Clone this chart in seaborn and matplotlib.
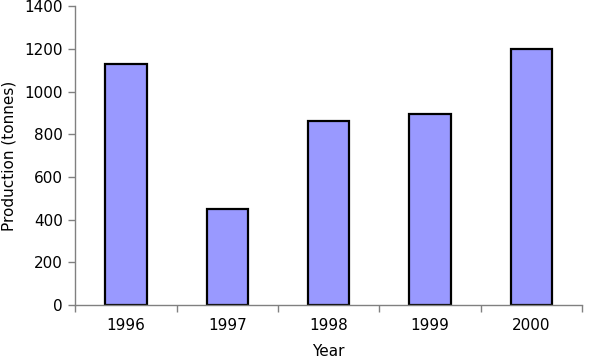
import matplotlib
matplotlib.use("Agg")
import matplotlib.pyplot as plt
import seaborn as sns
import pandas as pd
from matplotlib.ticker import FixedLocator

years = ["1996", "1997", "1998", "1999", "2000"]
production = [1130, 450, 860, 895, 1200]
y_ticks = [0, 200, 400, 600, 800, 1000, 1200, 1400]

df = pd.DataFrame({"Year": years, "Production": production})

sns.set_theme(style="white")
plt.rcParams["font.family"] = ["DejaVu Sans"]
plt.rcParams["text.color"] = "black"
plt.rcParams["axes.labelcolor"] = "black"

fig = plt.figure(figsize=(5.99, 3.62), dpi=100)
ax = fig.add_axes([0.126, 0.157, 0.8456, 0.826])

sns.barplot(data=df, x="Year", y="Production", color="#9999FF",
            saturation=1, width=0.41, edgecolor="black", linewidth=1.6, ax=ax)

ax.set_xlim(-0.5, len(years) - 0.5)
ax.set_ylim(0, 1400)
ax.set_yticks(y_ticks)
ax.set_yticklabels([str(t) for t in y_ticks])
ax.xaxis.set_minor_locator(FixedLocator([i - 0.5 for i in range(len(years) + 1)]))
ax.tick_params(axis="x", which="major", length=0, pad=9, labelsize=11, labelcolor="black")
ax.tick_params(axis="x", which="minor", length=5, width=1, color="#808080", direction="out", bottom=True)
ax.tick_params(axis="y", which="major", length=5, width=1, color="#808080", direction="out",
               left=True, labelsize=11, pad=4, labelcolor="black")

for s in ["top", "right"]:
    ax.spines[s].set_visible(False)
for s in ["left", "bottom"]:
    ax.spines[s].set_color("#808080")
    ax.spines[s].set_linewidth(1)

ax.set_xlabel("Year", fontsize=11, labelpad=8, color="black")
ax.set_ylabel("Production (tonnes)", fontsize=11, labelpad=6, color="black")

fig.savefig("out.png", dpi=100)
